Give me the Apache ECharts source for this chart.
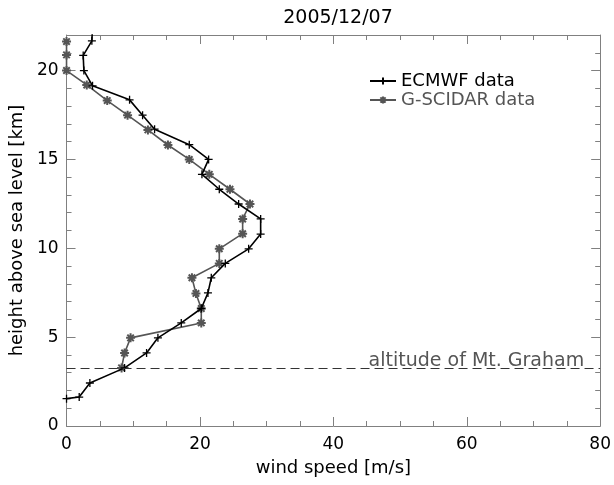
<!DOCTYPE html>
<html>
<head>
<meta charset="utf-8">
<script src="https://cdn.jsdelivr.net/npm/echarts@6/dist/echarts.min.js"></script>
<style>html,body{margin:0;padding:0;background:#fff}#c{width:614px;height:485px}</style>
</head>
<body>
<div id="c"></div>
<script>
var titleText = '2005/12/07';
var ecmwfSpeed  = [0.0, 1.9, 3.5, 8.7, 12.0, 13.7, 17.2, 20.2, 21.2, 21.7, 23.8, 27.3, 29.1, 29.1, 25.8, 22.9, 20.3, 21.3, 18.4, 13.2, 11.4, 9.45, 3.9, 2.6, 2.5, 3.8, 3.9];
var ecmwfHeight = [1.54, 1.63, 2.42, 3.27, 4.11, 4.96, 5.80, 6.61, 7.49, 8.34, 9.15, 9.97, 10.8, 11.65, 12.49, 13.32, 14.16, 15.0, 15.83, 16.7, 17.49, 18.35, 19.14, 20.0, 20.85, 21.67, 22.5];
var scidarSpeed  = [8.25, 8.7, 9.6, 20.2, 20.2, 19.4, 18.8, 22.9, 22.9, 26.4, 26.4, 27.5, 24.5, 21.4, 18.4, 15.2, 12.2, 9.15, 6.1, 3.03, 0.0, 0.0, 0.0];
var scidarHeight = [3.27, 4.11, 4.96, 5.80, 6.61, 7.46, 8.34, 9.15, 9.97, 10.82, 11.65, 12.49, 13.32, 14.16, 15.0, 15.81, 16.66, 17.49, 18.31, 19.19, 20.0, 20.88, 21.63];
var mtGrahamAlt = 3.23;
var seriesNames = ['ECMWF data', 'G-SCIDAR data'];
var xName = 'wind speed [m/s]';
var yName = 'height above sea level [km]';
var mtGrahamLabel = 'altitude of Mt. Graham';

function pairs(xs, ys) { return xs.map(function (x, i) { return [x, ys[i]]; }); }

var FONT = 'DejaVu Sans';
var FRAME = '#808080';
var GRAY = '#555555';
var plusPath = 'path://M-1,0L1,0M0,-1L0,1';
var starPath = 'path://M-1,0L1,0M0,-1L0,1M-0.72,-0.72L0.72,0.72M-0.72,0.72L0.72,-0.72';

var chart = echarts.init(document.getElementById('c'), null, {renderer: 'canvas'});
function axisBase(extra) {
  return Object.assign({
    axisLine: {show: true, onZero: false, lineStyle: {color: FRAME, width: 1}},
    axisTick: {show: true, inside: true, length: 9, lineStyle: {color: FRAME}},
    splitLine: {show: false}
  }, extra);
}
chart.setOption({
  animation: false,
  backgroundColor: '#fff',
  title: {
    text: titleText, left: 333, top: 4, textAlign: 'center',
    textStyle: {fontFamily: FONT, fontSize: 19, fontWeight: 'normal', color: '#000'}
  },
  legend: {
    left: 364, top: 67, orient: 'vertical', itemGap: 1, itemWidth: 26, itemHeight: 9,
    textStyle: {fontFamily: FONT, fontSize: 18},
    data: [
      {name: seriesNames[0], textStyle: {color: '#000'}},
      {name: seriesNames[1], textStyle: {color: GRAY}}
    ]
  },
  grid: {left: 66, right: 13, top: 35, bottom: 59, containLabel: false},
  xAxis: [
    axisBase({
      type: 'value', min: 0, max: 80, interval: 20, position: 'bottom',
      minorTick: {show: true, splitNumber: 4, length: 5, lineStyle: {color: FRAME}},
      axisLabel: {color: '#000', fontFamily: FONT, fontSize: 17, margin: 10},
      name: xName, nameLocation: 'middle', nameGap: 33,
      nameTextStyle: {color: '#000', fontFamily: FONT, fontSize: 18}
    }),
    axisBase({
      type: 'value', min: 0, max: 80, interval: 20, position: 'top',
      minorTick: {show: true, splitNumber: 4, length: 5, lineStyle: {color: FRAME}},
      axisLabel: {show: false}
    })
  ],
  yAxis: [
    axisBase({
      type: 'value', min: 0, max: 22, interval: 5, position: 'left',
      minorTick: {show: true, splitNumber: 5, length: 5, lineStyle: {color: FRAME}},
      axisLabel: {color: '#000', fontFamily: FONT, fontSize: 17, margin: 8, showMaxLabel: false},
      name: yName, nameLocation: 'middle', nameGap: 40, nameRotate: 90,
      nameTextStyle: {color: '#000', fontFamily: FONT, fontSize: 18}
    }),
    axisBase({
      type: 'value', min: 0, max: 22, interval: 5, position: 'right',
      minorTick: {show: true, splitNumber: 5, length: 5, lineStyle: {color: FRAME}},
      axisLabel: {show: false}
    })
  ],
  series: [
    {
      name: seriesNames[0], type: 'line', xAxisIndex: 0, yAxisIndex: 0,
      data: pairs(ecmwfSpeed, ecmwfHeight), clip: true,
      symbol: plusPath, symbolSize: 8, showAllSymbol: true,
      lineStyle: {color: '#000', width: 1.6},
      itemStyle: {color: 'rgba(0,0,0,0)', borderColor: '#000', borderWidth: 1.3},
      z: 3
    },
    {
      name: seriesNames[1], type: 'line', xAxisIndex: 0, yAxisIndex: 0,
      data: pairs(scidarSpeed, scidarHeight), clip: true,
      symbol: starPath, symbolSize: 9, showAllSymbol: true,
      lineStyle: {color: GRAY, width: 1.6},
      itemStyle: {color: 'rgba(0,0,0,0)', borderColor: GRAY, borderWidth: 2},
      z: 2,
      markLine: {
        silent: true, symbol: 'none',
        lineStyle: {color: '#333', type: [9, 5], width: 1},
        label: {show: true, position: 'insideEndTop', formatter: mtGrahamLabel,
                color: GRAY, fontFamily: FONT, fontSize: 19, distance: [16, -2]},
        data: [{yAxis: mtGrahamAlt}]
      }
    }
  ]
});
</script>
</body>
</html>
